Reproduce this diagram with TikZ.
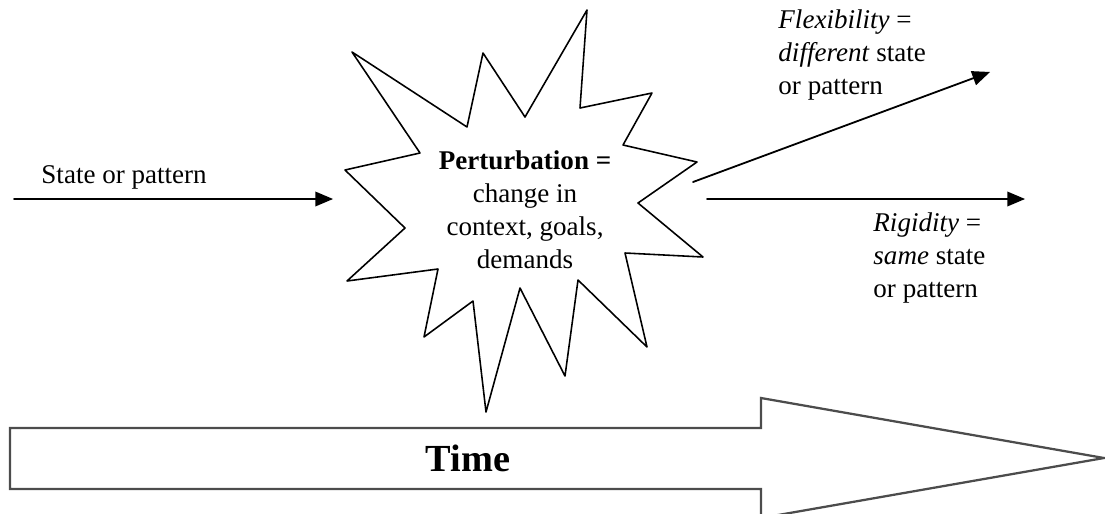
\documentclass[tikz,border=0pt]{standalone}
\usepackage{fontspec}
\setmainfont{Liberation Serif}
\usetikzlibrary{arrows}

\begin{document}
\begin{tikzpicture}[line cap=round,line join=round,>=triangle 45,x=0.0156cm,y=0.0156cm,
  every node/.style={font=\fontsize{12}{14.6}\selectfont,inner sep=0pt}]
\useasboundingbox (0,0) rectangle (1105,513);
% time arrow
\draw [line width=1pt,color=black!70,line join=miter,line cap=butt] (10,85) -- (761,85) -- (761,115) -- (1104,55) -- (761,-5) -- (761,24) -- (10,24) -- cycle;
\node (time) at (468,55) {\fontsize{17}{20}\selectfont\bfseries Time};
% perturbation burst
\draw [line width=0.7pt] (587,503) -- (580,405) -- (652,420) -- (623,368) -- (697,351) -- (638,310) -- (703,256) -- (625,260) -- (647,166) -- (578,233) -- (565,137) -- (520,225) -- (486,101) -- (473,212) -- (424,176) -- (438,244) -- (347,232) -- (405,285) -- (345,343) -- (420,360) -- (352,461) -- (467,386) -- (483,460) -- (525,396) -- cycle;
\node (pert) [align=center] at (525,303) {\textbf{Perturbation =}\\change in\\context, goals,\\demands};
% state arrows
\coordinate (s0) at (14,314);
\coordinate (s1) at (333,314);
\coordinate (f0) at (693,331);
\coordinate (f1) at (990,441);
\coordinate (r0) at (707,314);
\coordinate (r1) at (1025,314);
\draw [->,line width=0.8pt] (s0) -- (s1);
\draw [->,line width=0.8pt] (f0) -- (f1);
\draw [->,line width=0.8pt] (r0) -- (r1);
\node (state) [anchor=base west] at (41,330) {State or pattern};
\node (flex) [anchor=west,align=left] at (778,458) {\textit{Flexibility} =\\\textit{different} state\\or pattern};
\node (rigid) [anchor=west,align=left] at (873,255) {\textit{Rigidity} =\\\textit{same} state\\or pattern};
% \draw (525,303) node {+};
\end{tikzpicture}
\end{document}
